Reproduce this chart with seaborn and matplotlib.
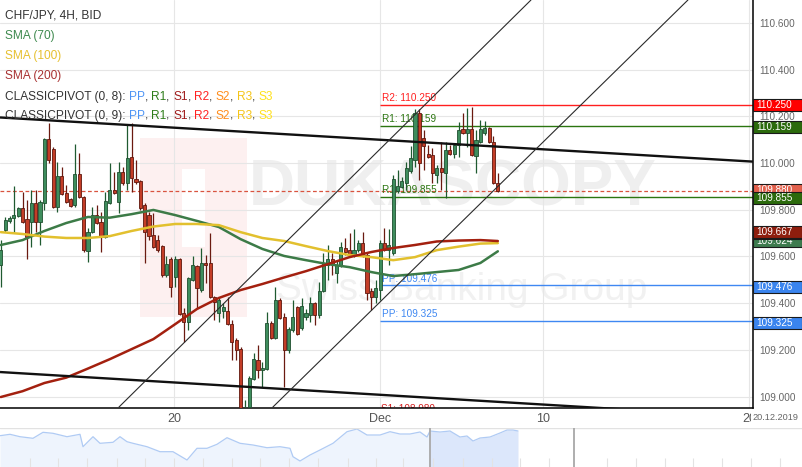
import numpy as np
import pandas as pd
import matplotlib
matplotlib.use("Agg")
import matplotlib.pyplot as plt
import matplotlib.transforms as mtransforms
from matplotlib.patches import Rectangle
import seaborn as sns

# ---------------- data (CHF/JPY 4H bid) ----------------
opens = [109.563, 109.713, 109.752, 109.764, 109.773, 109.807, 109.760, 109.747, 109.829, 109.747,
         109.829, 110.103, 110.060, 109.811, 109.944, 109.871, 109.846, 109.820, 109.953, 109.854,
         109.623, 109.704, 109.777, 109.747, 109.683, 109.829, 109.884, 109.833, 109.961, 109.914,
         110.026, 109.931, 109.923, 109.820, 109.777, 109.692, 109.670, 109.644, 109.520, 109.589,
         109.512, 109.589, 109.357, 109.319, 109.499, 109.559, 109.456, 109.572, 109.572, 109.426,
         109.357, 109.366, 109.366, 109.310, 109.242, 109.203, 108.921, 108.955, 109.075, 109.156,
         109.113, 109.118, 109.315, 109.250, 109.413, 109.340, 109.199, 109.285, 109.383, 109.293,
         109.340, 109.349, 109.400, 109.349, 109.452, 109.563, 109.589, 109.529, 109.563, 109.636,
         109.627, 109.606, 109.627, 109.657, 109.606, 109.452, 109.426, 109.456, 109.657, 109.627,
         109.615, 109.880, 109.897, 109.914, 109.966, 110.013, 110.214, 110.107, 110.039, 110.034,
         109.948, 109.979, 109.957, 110.056, 110.039, 110.077, 110.146, 110.128, 110.146, 110.030,
         110.090, 110.128, 110.150, 110.090, 109.914]
highs = [109.670, 109.769, 109.773, 109.901, 109.811, 109.876, 109.841, 109.884, 109.884, 109.841,
         110.107, 110.171, 110.068, 110.004, 109.983, 109.906, 109.850, 110.081, 110.043, 109.859,
         109.721, 109.811, 109.820, 109.790, 109.876, 110.000, 109.961, 110.004, 109.983, 110.163,
         110.171, 110.013, 109.927, 109.829, 109.790, 109.786, 109.692, 109.649, 109.602, 109.597,
         109.602, 109.593, 109.379, 109.512, 109.602, 109.563, 109.636, 109.606, 109.700, 109.430,
         109.422, 109.400, 109.426, 109.327, 109.250, 109.212, 108.985, 109.088, 109.186, 109.220,
         109.148, 109.362, 109.323, 109.469, 109.422, 109.357, 109.298, 109.413, 109.388, 109.422,
         109.375, 109.426, 109.405, 109.490, 109.615, 109.649, 109.615, 109.584, 109.662, 109.679,
         109.700, 109.717, 109.670, 109.704, 109.615, 109.465, 109.499, 109.670, 109.721, 109.717,
         109.948, 109.970, 109.940, 110.004, 110.073, 110.231, 110.231, 110.141, 110.077, 110.064,
         109.991, 110.090, 110.090, 110.077, 110.086, 110.176, 110.214, 110.236, 110.240, 110.141,
         110.184, 110.180, 110.154, 110.116, 109.957]
lows = [109.469, 109.704, 109.743, 109.704, 109.769, 109.743, 109.589, 109.640, 109.704, 109.649,
        109.799, 110.000, 109.807, 109.790, 109.863, 109.829, 109.811, 109.811, 109.850, 109.619,
        109.576, 109.700, 109.739, 109.619, 109.679, 109.824, 109.867, 109.786, 109.906, 109.884,
        109.876, 109.910, 109.799, 109.572, 109.670, 109.636, 109.619, 109.512, 109.512, 109.426,
        109.469, 109.349, 109.233, 109.285, 109.495, 109.379, 109.448, 109.486, 109.422, 109.327,
        109.319, 109.336, 109.306, 109.156, 109.156, 108.899, 108.878, 108.933, 109.071, 109.079,
        109.041, 109.113, 109.246, 109.246, 109.332, 109.041, 109.186, 109.276, 109.263, 109.285,
        109.327, 109.319, 109.306, 109.336, 109.448, 109.499, 109.520, 109.486, 109.554, 109.606,
        109.597, 109.597, 109.619, 109.597, 109.413, 109.370, 109.400, 109.413, 109.623, 109.563,
        109.606, 109.871, 109.893, 109.884, 109.957, 109.983, 109.927, 109.970, 110.021, 109.914,
        109.914, 109.884, 109.850, 110.034, 110.021, 110.026, 110.124, 110.068, 110.030, 109.957,
        110.086, 110.120, 110.086, 109.910, 109.876]
closes = [109.627, 109.756, 109.764, 109.777, 109.807, 109.747, 109.683, 109.829, 109.747, 109.833,
          110.103, 110.013, 109.811, 109.944, 109.867, 109.833, 109.816, 109.953, 109.854, 109.627,
          109.704, 109.777, 109.743, 109.683, 109.837, 109.884, 109.871, 109.961, 109.914, 110.021,
          109.936, 109.918, 109.807, 109.704, 109.687, 109.640, 109.627, 109.520, 109.567, 109.469,
          109.589, 109.353, 109.319, 109.507, 109.563, 109.465, 109.572, 109.563, 109.426, 109.405,
          109.413, 109.383, 109.310, 109.233, 109.199, 108.951, 108.951, 109.079, 109.160, 109.113,
          109.122, 109.315, 109.250, 109.413, 109.336, 109.199, 109.289, 109.340, 109.267, 109.388,
          109.357, 109.400, 109.349, 109.452, 109.572, 109.589, 109.567, 109.563, 109.640, 109.619,
          109.610, 109.627, 109.657, 109.606, 109.443, 109.426, 109.465, 109.657, 109.627, 109.649,
          109.931, 109.901, 109.923, 109.979, 110.021, 110.214, 110.000, 110.073, 110.026, 109.957,
          109.979, 109.961, 110.056, 110.039, 110.077, 110.141, 110.128, 110.146, 110.034, 110.098,
          110.146, 110.150, 110.090, 109.914, 109.880]

sma_idx = [0, 5, 10, 15, 20, 25, 30, 35, 40, 45, 50, 55, 60, 65, 70, 75, 80, 85, 90, 95, 100, 105, 110, 114]
sma70 = [109.649, 109.670, 109.709, 109.743, 109.769, 109.766, 109.781, 109.799, 109.777, 109.752,
         109.726, 109.674, 109.632, 109.602, 109.584, 109.567, 109.554, 109.533, 109.516, 109.524,
         109.533, 109.542, 109.572, 109.622]
sma100 = [109.704, 109.696, 109.685, 109.679, 109.679, 109.687, 109.709, 109.728, 109.739, 109.739,
          109.734, 109.704, 109.679, 109.666, 109.644, 109.623, 109.606, 109.597, 109.584, 109.597,
          109.627, 109.642, 109.655, 109.657]
sma200 = [108.998, 109.023, 109.058, 109.081, 109.120, 109.160, 109.203, 109.246, 109.310, 109.375,
          109.422, 109.456, 109.482, 109.510, 109.537, 109.567, 109.597, 109.619, 109.636, 109.649,
          109.664, 109.668, 109.670, 109.666]

x_tick_pos = [39.7, 87.0, 124.4, 171.6]
x_tick_labels = ["20", "Dec", "10", "20"]
y_ticks = [109.0, 109.2, 109.4, 109.6, 109.8, 110.0, 110.2, 110.4, 110.6]

pivot_start = 87.0
pivot_levels = [110.250, 110.159, 109.855, 109.476, 109.325]
pivot_names = ["R2", "R1", "R1", "PP", "PP"]
pivot_colors = ["#ff1f1f", "#2b7510", "#2b7510", "#3f88f2", "#3f88f2"]
s1_label = "S1: 108.980"
last_price = 109.880

thick_x = [[-0.18, 172.52], [-0.18, 172.52]]
thick_y = [[110.195, 110.006], [109.105, 108.912]]
chan_x = [[27.1, 121.6], [62.4, 157.6]]
chan_y = [[108.955, 110.698], [108.955, 110.698]]

# right-hand value boxes (drawing order bottom -> top)
box_text = ["110.250", "110.159", "109.880", "109.855", "109.624", "", "109.667", "109.476", "109.325"]
box_pos = [110.248, 110.155, 109.884, 109.852, 109.664, 109.699, 109.704, 109.469, 109.315]
box_color = ["#ff0000", "#2b6a0c", "#e2604c", "#2b6a0c", "#3d7b4e", "#e8c32e", "#8e1d0d", "#3a84ee", "#3a84ee"]

nav_x = [0, 10, 20, 33, 43, 53, 67, 80, 83, 93, 100, 113, 120, 127, 133, 147, 160, 173, 187, 197, 207,
         217, 227, 240, 253, 267, 280, 290, 293, 300, 310, 320, 333, 347, 357, 367, 380, 390, 400, 410,
         420, 427, 430, 440, 450, 460, 467, 473, 480, 490, 500, 507, 513, 518]
nav_h = [31.3, 32.7, 30.3, 28.7, 34.7, 33.7, 30.3, 32.7, 20.3, 30.3, 23.7, 24.7, 30.3, 25.3, 23.7, 20.3,
         15.3, 15.3, 7.0, 18.7, 18.7, 22.7, 29.3, 23.7, 22.0, 19.3, 20.3, 18.7, 10.3, 6.0, 12.0, 17.0,
         23.7, 35.3, 38.0, 32.0, 32.0, 35.3, 33.0, 33.0, 35.0, 30.0, 36.0, 35.0, 36.0, 30.0, 31.0, 26.0,
         29.0, 30.0, 34.0, 37.0, 37.0, 36.0]
nav_grid_x = [30, 58, 87, 117, 145, 174, 203, 232, 260, 289, 318, 348, 376, 403, 433, 463, 492, 520,
              549, 607, 636, 665, 693, 722, 751, 780]
nav_window = [430, 574]

# ---------------- figure ----------------
W, H = 803, 467
sns.set_theme(style="white")
plt.rcParams["font.family"] = ["Liberation Sans", "DejaVu Sans"]

fig = plt.figure(figsize=(W / 100, H / 100), dpi=100)
ax = fig.add_axes([0, 59 / H, 753 / W, 408 / H])
P = mtransforms.Affine2D().scale(1 / W, -1 / H).translate(0, 1) + fig.transFigure
B = mtransforms.blended_transform_factory(P, ax.transData)

ax.set_xlim(-0.18, 172.52)
ax.set_ylim(108.951, 110.698)

# grid
ax.set_yticks(y_ticks)
ax.set_yticklabels([f"{v:.3f}" for v in y_ticks])
ax.set_xticks(x_tick_pos)
ax.set_xticklabels(x_tick_labels)
ax.grid(True, color="#e6e6e6", lw=0.8, zorder=0)
ax.set_axisbelow(True)
ax.yaxis.tick_right()
ax.tick_params(axis="y", length=0, pad=4.5, labelsize=7.2, labelcolor="#666666")
ax.tick_params(axis="x", length=0, pad=3.5, labelsize=9, labelcolor="#555555")
for s in ["left", "top"]:
    ax.spines[s].set_visible(False)
for s in ["right", "bottom"]:
    ax.spines[s].set_color("black")
    ax.spines[s].set_linewidth(1.1)

# watermark
ax.add_patch(Rectangle((140, 138), 107, 179, transform=P, facecolor="#fdf0f0", edgecolor="none", zorder=0.3))
ax.add_patch(Rectangle((182, 169), 23, 78, transform=P, facecolor="white", edgecolor="none", zorder=0.31))
ax.text(453, 188, "DUKASCOPY", transform=P, ha="center", va="center", fontsize=46,
        fontweight="bold", color="#efefef", zorder=0.4)
ax.text(462, 290, "Swiss Banking Group", transform=P, ha="center", va="center", fontsize=28,
        color="#f1f1f1", zorder=0.4)

# last price dashed line
ax.axhline(last_price, color="#d9533f", lw=0.9, ls=(0, (3, 2)), zorder=2)

# pivot lines and labels
for lvl, name, col in zip(pivot_levels, pivot_names, pivot_colors):
    ax.hlines(lvl, pivot_start, 172.52, color=col, lw=1.0, zorder=2)
    ax.annotate(f"{name}: {lvl:.3f}", xy=(pivot_start, lvl), xytext=(1, 1.2), textcoords="offset points",
                ha="left", va="bottom", fontsize=7.2, color=col, zorder=2.5)
ax.text(pivot_start + 0.2, 108.934, s1_label, ha="left", va="baseline", fontsize=7.2,
        color="#d42020", zorder=2.5, clip_on=True)

# candles
df = pd.DataFrame({"i": np.arange(len(opens)), "open": opens, "high": highs, "low": lows, "close": closes})
up = (df["close"] >= df["open"]).to_numpy()
wick_c = np.where(up, "#1f5a30", "#6a1a10")
face_c = np.where(up, "#3e8d5d", "#c33d27")
edge_c = np.where(up, "#1f4f2f", "#5e170d")
ax.vlines(df["i"], df["low"], df["high"], colors=wick_c, lw=0.9, zorder=3)
body = np.maximum((df["close"] - df["open"]).abs(), 0.004)
ax.bar(df["i"], body, bottom=np.minimum(df["open"], df["close"]), width=0.72,
       color=face_c, edgecolor=edge_c, linewidth=0.6, zorder=3.2)

# moving averages
sns.lineplot(x=sma_idx, y=sma70, ax=ax, color="#3c7b47", lw=1.8, zorder=4, legend=False)
sns.lineplot(x=sma_idx, y=sma100, ax=ax, color="#e2c02e", lw=1.8, zorder=4, legend=False)
sns.lineplot(x=sma_idx, y=sma200, ax=ax, color="#a3200f", lw=1.8, zorder=4.1, legend=False)

# trend lines
for xs, ys in zip(thick_x, thick_y):
    ax.plot(xs, ys, color="#111111", lw=1.7, zorder=5, solid_capstyle="butt")
for xs, ys in zip(chan_x, chan_y):
    ax.plot(xs, ys, color="#2a2a2a", lw=0.8, zorder=5)
ax.set_xlim(-0.18, 172.52)
ax.set_ylim(108.951, 110.698)
ax.set_xlabel("")
ax.set_ylabel("")

# legend block (top-left)
legend_rows = [
    (15, [("CHF/JPY, 4H, BID", "#333333")]),
    (36, [("SMA (70)", "#3f8a4f")]),
    (56, [("SMA (100)", "#e6c02f")]),
    (76, [("SMA (200)", "#a83232")]),
]
pivot_parts = [("PP", "#4d94f5"), (", ", "#333333"), ("R1", "#2e7d1a"), (", ", "#333333"),
               ("S1", "#a01c1c"), (", ", "#333333"), ("R2", "#ff2222"), (", ", "#333333"),
               ("S2", "#ff8c1a"), (", ", "#333333"), ("R3", "#f5c518"), (", ", "#333333"),
               ("S3", "#ffe11a")]
legend_rows.append((97, [("CLASSICPIVOT (0, 8): ", "#333333")] + pivot_parts))
legend_rows.append((116, [("CLASSICPIVOT (0, 9): ", "#333333")] + pivot_parts))
for yc, parts in legend_rows:
    t = ax.text(5, yc, parts[0][0], transform=P, color=parts[0][1], fontsize=8.6,
                ha="left", va="center", zorder=20)
    for s, c in parts[1:]:
        t = ax.annotate(s, xy=(1, 0), xycoords=t, ha="left", va="bottom", color=c,
                        fontsize=8.6, zorder=20, annotation_clip=False)

# right-hand value boxes
bh = 12 / 233.5
for k, (txt, yp, col) in enumerate(zip(box_text, box_pos, box_color)):
    z = 10 + k
    fig.add_artist(Rectangle((753, yp - bh / 2), 49, bh, transform=B, facecolor=col,
                             edgecolor="#1a1a1a", lw=0.8, zorder=z))
    if txt:
        fig.text(756, yp, txt, transform=B, color="white", fontsize=7.2, ha="left",
                 va="center", zorder=z + 0.5)

fig.text(752.5, 417, "20.12.2019", transform=P, color="#666666", fontsize=6.6, ha="left",
         va="center", zorder=30,
         bbox=dict(boxstyle="square,pad=0.15", facecolor="white", edgecolor="none"))

# navigator
nav = fig.add_axes([0, 0, 1, 39 / H])
nav.set_xlim(0, W)
nav.set_ylim(0, 39)
nav.axis("off")
nx = np.array(nav_x, dtype=float)
nh = np.array(nav_h, dtype=float)
left = nx <= nav_window[0]
right = nx >= nav_window[0]
nav.fill_between(nx[left], 0, nh[left], color="#eef4fd", lw=0)
nav.fill_between(nx[right], 0, nh[right], color="#dce7fb", lw=0)
sns.lineplot(x=nx, y=nh, ax=nav, color="#b0cbf4", lw=0.9, legend=False)
nav.vlines(nav_grid_x, 0, 9, color="#e3e3e3", lw=0.8)
nav.axhline(39, color="#e2e2e2", lw=1.0)
nav.vlines(nav_window, 0, 39, color="#a8a8a8", lw=1.3)
nav.set_xlim(0, W)
nav.set_ylim(0, 39)

fig.savefig("out.png", dpi=100)
